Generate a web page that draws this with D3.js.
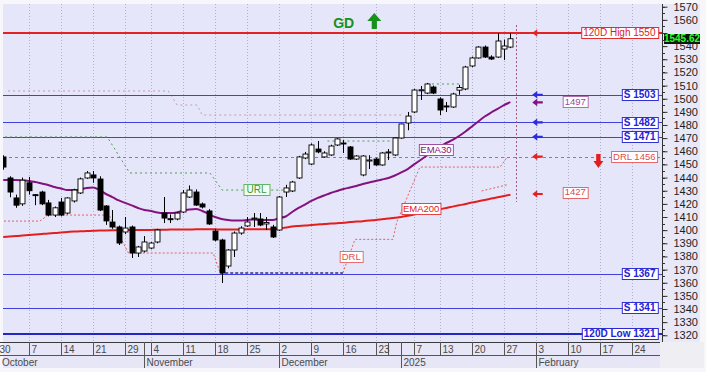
<!DOCTYPE html>
<html><head><meta charset="utf-8">
<script src="https://cdn.jsdelivr.net/npm/d3@7"></script>
<style>
html,body{margin:0;padding:0;background:#f7f7fb;}
svg{display:block;font-family:"Liberation Sans",Arial,sans-serif;}
</style></head><body>
<svg id="chart" width="706" height="372"></svg>
<script>
// ---------- data ----------
const dates = ["2024-10-01","2024-10-02","2024-10-03","2024-10-04",
"2024-10-07","2024-10-08","2024-10-09","2024-10-10","2024-10-11",
"2024-10-14","2024-10-15","2024-10-16","2024-10-17","2024-10-18",
"2024-10-21","2024-10-22","2024-10-23","2024-10-24","2024-10-25",
"2024-10-29","2024-10-30","2024-10-31","2024-11-01",
"2024-11-04","2024-11-05","2024-11-06","2024-11-07","2024-11-08",
"2024-11-11","2024-11-12","2024-11-13","2024-11-14","2024-11-15",
"2024-11-18","2024-11-19","2024-11-20","2024-11-21","2024-11-22",
"2024-11-25","2024-11-26","2024-11-27","2024-11-28","2024-11-29",
"2024-12-02","2024-12-03","2024-12-04","2024-12-05","2024-12-06",
"2024-12-09","2024-12-10","2024-12-11","2024-12-12","2024-12-13",
"2024-12-16","2024-12-17","2024-12-18","2024-12-19","2024-12-20",
"2024-12-23","2024-12-27","2024-12-30","2024-12-31",
"2025-01-02","2025-01-03",
"2025-01-07","2025-01-08","2025-01-09","2025-01-10",
"2025-01-13","2025-01-14","2025-01-15","2025-01-16","2025-01-17",
"2025-01-20","2025-01-21","2025-01-22","2025-01-23","2025-01-24",
"2025-01-27","2025-01-28"];

const openV = [1455.7,1439.7,1424.5,1420,1436,1427,1429,1420.7,1411.5,1421.4,
1413,1422.2,1428.3,1439.7,1442,1438.9,1418.4,1406.2,1402.4,1398.6,
1402.4,1382.6,1384.1,1386.4,1391,1413,1408.7,1408.5,1413.8,1425.2,
1429,1419.9,1414.6,1399.3,1392.5,1372.7,1384.9,1397.8,1403.2,1408.5,
1408.5,1404.7,1402.4,1400.1,1429,1429.8,1439.7,1454.9,1450.3,1461.7,
1455.7,1457.2,1464.8,1466.3,1463.3,1454.1,1442,1452.6,1454.1,1449.6,
1459,1457.2,1470.1,1481.5,1489.9,1506,1504.3,1508.9,1499.8,1494.5,
1493.7,1506.5,1507.4,1524.9,1531.0,1539.3,1531.7,1531.7,1537.8,1539.3];

const highV = [1457,1441,1427,1440,1440.5,1427.5,1430,1423,1418,1424.5,
1425,1431.5,1440,1445,1445,1441,1419,1415.3,1403.5,1410,
1403.5,1388,1395.5,1391,1401,1425.2,1412,1414,1430.5,1434,
1431,1421,1416,1401,1393.5,1385.5,1399,1403,1410,1413,
1413,1410,1404,1426,1434.5,1437.5,1456.5,1459.5,1466,1467.8,
1460,1465,1470,1468.5,1464,1457,1457,1457,1455,1459.5,
1461.7,1470.5,1481,1489.9,1507.5,1509.7,1512,1510,1501,1497.5,
1504.5,1510.5,1525,1532,1540,1540.5,1533,1550,1545,1550];

const lowV = [1446,1425,1417,1418.5,1427,1419,1419,1410.5,1410,1410.5,
1412,1421,1427.5,1439,1436,1414.5,1404,1401,1388.7,1397,
1378.8,1379.6,1383,1385.5,1390,1405.4,1405.4,1407.5,1413,1424.5,
1418.5,1416.5,1404,1391.5,1359.8,1371,1379.6,1396.5,1402.5,1402.4,
1403,1400.1,1394,1399.5,1425.2,1429,1439,1454,1449.5,1458.5,
1455,1456.5,1464,1458.7,1453.5,1453.4,1441,1446.5,1449,1449,
1453.4,1456.5,1469.5,1476,1489,1499,1503.5,1503.5,1487.6,1489.9,
1493,1503,1506.5,1524,1530.5,1531,1529.5,1531,1529.5,1538.5];

const closeV = [1448,1429,1419,1438,1430,1426.3,1420,1411.5,1417,1411.5,
1424.5,1430.5,1439,1443.5,1439.7,1415.3,1407,1402.4,1390.2,1401.6,
1382.6,1387.2,1391,1390.2,1400.1,1409.2,1408.3,1413,1428.3,1430.5,
1419.1,1417.6,1404.7,1392.5,1367.4,1384.9,1397.8,1401.6,1406.2,1409.2,
1403.9,1405.8,1394.8,1425.2,1432.1,1436.6,1455.7,1457.9,1464.8,1459.5,
1458.7,1464.0,1469.4,1465.8,1454.1,1456.4,1456.4,1453.4,1449.6,1458.7,
1459.5,1470.1,1480.8,1486.8,1506.6,1506.8,1511.2,1504.3,1491.4,1493.7,
1503.6,1508.5,1524.1,1531.0,1539.3,1531.7,1530.2,1543.9,1540.1,1545.62];

const ema30 = [1438.2,1438.2,1438.2,1437.8,1437.4,1436.6,1435.5,1434.4,1432.8,1431.7,
1430.5,1430.5,1430.9,1432.1,1432.4,1430.5,1427.5,1425.2,1422.6,1420.7,
1418.8,1416.9,1415.3,1414.6,1413.4,1413.0,1413.0,1413.4,1414.9,1415.7,
1416.1,1414.6,1412.3,1410.0,1408.5,1407.7,1407.3,1407.3,1407.7,1408.1,
1407.7,1407.7,1407.7,1409.2,1410.4,1413.8,1416.9,1419.5,1422.2,1424.5,
1426.4,1428.3,1429.8,1431.3,1432.4,1433.6,1435.1,1436.3,1437.4,1438.5,
1439.7,1441.6,1443.9,1446.5,1450.0,1453.4,1456.8,1460.2,1463.7,1466.3,
1468.6,1471.6,1475.1,1478.9,1482.7,1486.5,1489.5,1492.2,1495.2,1497.4];

const ema200 = [1394.8,1395.2,1395.5,1395.9,1396.3,1396.7,1397.1,1397.5,1397.8,1398.2,
1398.6,1399.0,1399.1,1399.3,1399.5,1399.7,1399.8,1399.9,1400.0,1400.0,
1400.1,1400.1,1400.2,1400.2,1400.3,1400.3,1400.4,1400.4,1400.5,1400.5,
1400.6,1400.6,1400.6,1400.6,1400.5,1400.5,1400.5,1400.5,1400.6,1400.6,
1400.7,1400.7,1400.7,1401.2,1402.0,1402.8,1403.2,1403.5,1403.9,1404.3,
1404.7,1405.0,1405.3,1405.6,1406.2,1406.5,1406.8,1407.3,1407.7,1408.3,
1408.9,1409.5,1410.0,1410.9,1411.9,1413.0,1414.0,1414.9,1415.9,1416.9,
1417.9,1418.9,1419.9,1421.0,1422.0,1423.0,1424.0,1425.0,1426.0,1427.0];

// horizontal levels
const highLevel = 1550, lowLevel = 1321, drlLevel = 1456;
const supportLevels = [1503, 1482, 1471, 1367, 1341];
const lastPrice = 1545.62;

// step / trend lines: [trading-day index, value]
const urlPath = [[-0.5,1470.9],[16.2,1470.9],[19.7,1443.5],[32.2,1443.5],[34.1,1430.5],[43.6,1430.5]];
const urlPath2 = [[50.5,1467.8],[60.5,1467.8]];
const urlPath3 = [[66,1511.2],[71.5,1511.2]];
const upperPath = [[0.75,1505.9],[25.7,1505.9],[27.1,1495.2],[30.2,1495.2],[31,1487.6],[62,1487.6]];
const drlPathA = [[-0.5,1406.9],[5.7,1406.9],[7.0,1411.5],[16.5,1411.5],[19.5,1382.6],[32.7,1382.6],[33.8,1367.4]];
const drlPathB = [[33.8,1367.4],[52.9,1367.4]];
const drlPathC = [[52.9,1367.4],[54.8,1393.0],[60.7,1393.0],[61.3,1406.2],[64.9,1448.0],[77.4,1448.0],[78.5,1455.7]];
const drlPathD = [[74.5,1429.8],[78.5,1434.5]];

// x axis ticks: [trading-day index, label]
const weekTicks = [[-1,"30"],[4,"7"],[9,"14"],[14,"21"],[19,"29"],[23,"4"],[28,"11"],[33,"18"],[38,"25"],
[43,"2"],[48,"9"],[53,"16"],[58,"23"],[60,""],[64,"7"],[68,"13"],[73,"20"],[78,"27"],
[83,"3"],[88,"10"],[93,"17"],[98,"24"]];
const monthTicks = [[-1,"October"],[22,"November"],[43,"December"],[62,"2025"],[83,"February"]];
const yTickValues = d3.range(1320, 1571, 10);
const yMinorValues = d3.range(1320, 1571, 5);

// ---------- layout ----------
const PL = 3, PR = 662, PT = 4, PB = 342;
const svg = d3.select("#chart");
const x = d3.scaleLinear().domain([-0.5, 102.5]).range([0, 661.3]);
const y = d3.scaleLinear().domain([1320, 1570]).range([335.3, 6.7]);

svg.append("rect").attr("width",706).attr("height",372).attr("fill","#f7f7fb");
svg.append("rect").attr("x",PL).attr("y",PT).attr("width",PR-PL).attr("height",PB-PT).attr("fill","#e6e6fa");
svg.append("rect").attr("x",PR).attr("y",PT).attr("width",38).attr("height",PB-PT).attr("fill","#e8e8f6");
svg.append("rect").attr("x",PL).attr("y",PB).attr("width",PR-PL-2).attr("height",26).attr("fill","#e6e6f6");
svg.append("rect").attr("x",PR-2).attr("y",PB).attr("width",44).attr("height",26).attr("fill","#efeff3");

const defs = svg.append("defs");
defs.append("clipPath").attr("id","plotclip").append("rect")
  .attr("x",PL).attr("y",PT).attr("width",PR-PL).attr("height",PB-PT);
defs.append("clipPath").attr("id","axisclip").append("rect")
  .attr("x",0).attr("y",PB).attr("width",PR-2).attr("height",30);

const plot = svg.append("g").attr("clip-path","url(#plotclip)");

// week grid
plot.selectAll("line.grid").data(weekTicks.filter(d => d[0] >= 0 && d[1] !== ""))
  .enter().append("line")
  .attr("x1", d => Math.round(x(d[0])) + 0.5).attr("x2", d => Math.round(x(d[0])) + 0.5)
  .attr("y1", PT).attr("y2", PB)
  .attr("stroke","#b2b2cc").attr("stroke-dasharray","1,2").attr("stroke-width",1);

const lineGen = d3.line().x(d => x(d[0])).y(d => y(d[1]));

// upper dotted line
plot.append("path").attr("d", lineGen(upperPath)).attr("fill","none")
  .attr("stroke","#c49aae").attr("stroke-width",1).attr("stroke-dasharray","2,3");

// horizontal levels
function hline(v, color, w, dash) {
  const yy = Math.round(y(v)) + (w % 2 ? 0.5 : 0);
  const l = plot.append("line").attr("x1",PL).attr("x2",PR).attr("y1",yy).attr("y2",yy)
    .attr("stroke",color).attr("stroke-width",w);
  if (dash) l.attr("stroke-dasharray",dash);
}
supportLevels.forEach(v => hline(v, "#4040dc", 1));
hline(lowLevel, "#2626c4", 2);
hline(drlLevel, "#e65a5a", 1, "3,3");
hline(highLevel, "#e42222", 2);

// URL & DRL step lines
[urlPath, urlPath2, urlPath3].forEach(p =>
  plot.append("path").attr("d", lineGen(p)).attr("fill","none")
    .attr("stroke","#4e9e4e").attr("stroke-width",1).attr("stroke-dasharray","2,3"));
[drlPathA, drlPathC, drlPathD].forEach(p =>
  plot.append("path").attr("d", lineGen(p)).attr("fill","none")
    .attr("stroke","#e26060").attr("stroke-width",1).attr("stroke-dasharray","2,2"));
plot.append("path").attr("d", lineGen(drlPathB)).attr("fill","none")
  .attr("stroke","#3a2a8a").attr("stroke-width",1.3).attr("stroke-dasharray","3,2");

// EMAs
const emaLine = d3.line().x((d,i) => x(i)).y(d => y(d)).curve(d3.curveMonotoneX);
plot.append("path").attr("d", emaLine(ema200)).attr("fill","none")
  .attr("stroke","#e41e1e").attr("stroke-width",2);
plot.append("path").attr("d", emaLine(ema30)).attr("fill","none")
  .attr("stroke","#84127e").attr("stroke-width",2);

// today marker
plot.append("line").attr("x1", Math.round(x(79.8))+0.5).attr("x2", Math.round(x(79.8))+0.5)
  .attr("y1", y(1556)).attr("y2", y(1421.4))
  .attr("stroke","#9a5878").attr("stroke-width",1).attr("stroke-dasharray","2,2");

// candles
const candles = dates.map((d,i) => ({i, o:openV[i], h:highV[i], l:lowV[i], c:closeV[i]}));
const cg = plot.append("g");
cg.selectAll("line.wick").data(candles).enter().append("line")
  .attr("x1", d => Math.round(x(d.i)) + 0.5).attr("x2", d => Math.round(x(d.i)) + 0.5)
  .attr("y1", d => y(d.h)).attr("y2", d => y(d.l))
  .attr("stroke","#000").attr("stroke-width",1);
cg.selectAll("rect.body").data(candles).enter().append("rect")
  .attr("x", d => Math.round(x(d.i)) - 2 + 0.0)
  .attr("y", d => y(Math.max(d.o, d.c)))
  .attr("width", 5)
  .attr("height", d => Math.max(1, Math.abs(y(d.o) - y(d.c))))
  .attr("fill", d => d.c >= d.o ? "#ffffff" : "#000000")
  .attr("stroke","#000").attr("stroke-width",0.9);

// ---------- labels ----------
const ann = svg.append("g");
function boxLabel(o) {
  const g = ann.append("g");
  const t = g.append("text").attr("x", o.x).attr("y", o.y).attr("dy","0.35em")
    .attr("text-anchor", o.anchor || "middle").attr("font-size", o.size || 10)
    .attr("font-weight", o.bold ? "bold" : "normal").attr("fill", o.color).text(o.text);
  const bb = t.node().getBBox();
  const pad = o.pad == null ? 2 : o.pad;
  const h = o.h || 11;
  g.insert("rect","text").attr("x", bb.x - pad + 0.5).attr("y", Math.round(o.y - h/2) + 0.5)
    .attr("width", Math.round(bb.width + 2*pad)).attr("height", h)
    .attr("fill", o.bg || "#ffffff").attr("stroke", o.border).attr("stroke-width",1);
}
const RX = 655.5;
boxLabel({text:"120D High " + highLevel, x:RX, y:y(highLevel), anchor:"end", color:"#e01c1c", border:"#e03030", size:10});
supportLevels.forEach(v => boxLabel({text:"S " + v, x:RX, y:y(v), anchor:"end", color:"#2222d8", border:"#3030d8", bold:true, size:10}));
boxLabel({text:"120D Low " + lowLevel, x:RX, y:y(lowLevel), anchor:"end", color:"#2222d8", border:"#2a2ad0", bold:true, size:10});
boxLabel({text:"DRL " + drlLevel, x:RX, y:y(drlLevel), anchor:"end", color:"#e24c4c", border:"#e66a6a", size:9.5});
boxLabel({text:String(Math.round(ema30[ema30.length-1])), x:x(89.1), y:y(1497.7), color:"#9a4a9a", border:"#b070b0", size:9.5});
boxLabel({text:String(Math.round(ema200[ema200.length-1])), x:x(89.1), y:y(1429), color:"#e24848", border:"#e46a6a", size:9.5});
boxLabel({text:"URL", x:x(39.45), y:y(1431), color:"#3a9a3a", border:"#66b466", bg:"#f2fff2", size:10, pad:3});
boxLabel({text:"DRL", x:x(54.2), y:y(1380), color:"#e05050", border:"#e47070", size:9.5});
boxLabel({text:"EMA30", x:x(67.4), y:y(1461.4), color:"#84127e", border:"#a050a0", size:9.5, pad:1.5});
boxLabel({text:"EMA200", x:x(65.1), y:y(1416.6), color:"#e02020", border:"#e44444", size:9.5, pad:1.5});

// small left arrows
const arrows = [[highLevel,"#e42222"],[1503,"#2c2ce0"],[1497.2,"#84127e"],[1482,"#2c2ce0"],[1471,"#2c2ce0"],[drlLevel,"#e42222"],[1427.5,"#e42222"]];
arrows.forEach(([v,c]) => {
  const tx = x(82.4), cy = y(v);
  ann.append("path").attr("fill", c)
    .attr("d", `M${tx},${cy} L${tx+5},${cy-3.8} L${tx+5},${cy-1.1} L${tx+10.5},${cy-1.1} L${tx+10.5},${cy+1.1} L${tx+5},${cy+1.1} L${tx+5},${cy+3.8} Z`);
});

// big down arrow (DRL)
{
  const cx = x(92.7), top = y(1458), tip = y(1447.3);
  ann.append("path").attr("fill","#e41e1e")
    .attr("d", `M${cx-2.2},${top} L${cx+2.2},${top} L${cx+2.2},${tip-7} L${cx+5},${tip-7} L${cx},${tip} L${cx-5},${tip-7} L${cx-2.2},${tip-7} Z`);
}
// GD + up arrow
ann.append("text").attr("x", x(51.4)).attr("y", y(1553.8)).attr("font-size",14).attr("font-weight","bold")
  .attr("fill","#18901c").text("GD");
{
  const cx = x(57.8), top = y(1565.2), bot = y(1553);
  ann.append("path").attr("fill","#18901c")
    .attr("d", `M${cx},${top} L${cx+7},${top+8} L${cx+2.6},${top+8} L${cx+2.6},${bot} L${cx-2.6},${bot} L${cx-2.6},${top+8} L${cx-7},${top+8} Z`);
}

// ---------- y axis ----------
const ya = svg.append("g");
ya.append("line").attr("x1",PR+0.5).attr("x2",PR+0.5).attr("y1",PT).attr("y2",PB).attr("stroke","#333");
ya.selectAll("line.minor").data(yMinorValues).enter().append("line")
  .attr("x1",PR).attr("x2",PR+3).attr("y1", d => Math.round(y(d))+0.5).attr("y2", d => Math.round(y(d))+0.5)
  .attr("stroke","#333");
// the last-price tag covers the 1550 label in the reference, so that label is not printed
const yAxis = d3.axisRight(y).tickValues(yTickValues).tickSize(5).tickSizeOuter(0).tickPadding(6)
  .tickFormat(d => d === highLevel ? "" : d3.format("d")(d));
const yg = ya.append("g").attr("transform",`translate(${PR+0.5},0)`).call(yAxis);
yg.select(".domain").remove();
yg.selectAll(".tick line").attr("stroke","#333");
yg.selectAll(".tick text").attr("font-size",11).attr("fill","#1e1e1e")
  .attr("font-family","'Liberation Sans',Arial,sans-serif");

// last price tag
{
  const cy = y(lastPrice);
  ann.append("rect").attr("x",664).attr("y",Math.round(cy-5)).attr("width",36).attr("height",10).attr("fill","#0c160c");
  ann.append("text").attr("x",682).attr("y",cy).attr("dy","0.35em").attr("text-anchor","middle")
    .attr("font-size",10).attr("font-weight","bold").attr("fill","#2cff2c").text(lastPrice.toFixed(2));
}

// ---------- x axis ----------
const xa = svg.append("g").attr("clip-path","url(#axisclip)");
xa.append("line").attr("x1",0).attr("x2",PR-2).attr("y1",PB+0.5).attr("y2",PB+0.5).attr("stroke","#3a3a3a");
xa.append("line").attr("x1",0).attr("x2",PR-2).attr("y1",355.5).attr("y2",355.5).attr("stroke","#555");
xa.selectAll("line.wk").data(weekTicks).enter().append("line")
  .attr("x1", d => Math.round(x(d[0]))+0.5).attr("x2", d => Math.round(x(d[0]))+0.5)
  .attr("y1", PB).attr("y2", 355.5).attr("stroke","#555");
xa.selectAll("text.wk").data(weekTicks).enter().append("text")
  .attr("x", d => Math.round(x(d[0])) + 2.5).attr("y", 352.5)
  .attr("font-size",10).attr("fill","#4a4a4a").text(d => d[1]);
xa.selectAll("line.mo").data(monthTicks).enter().append("line")
  .attr("x1", d => Math.round(x(d[0]))+0.5).attr("x2", d => Math.round(x(d[0]))+0.5)
  .attr("y1", PB).attr("y2", 368).attr("stroke","#555");
xa.selectAll("text.mo").data(monthTicks).enter().append("text")
  .attr("x", d => Math.max(2, Math.round(x(d[0])) + 2.5)).attr("y", 365.5)
  .attr("font-size",10).attr("fill","#4a4a4a").text(d => d[1]);
</script>
</body></html>
